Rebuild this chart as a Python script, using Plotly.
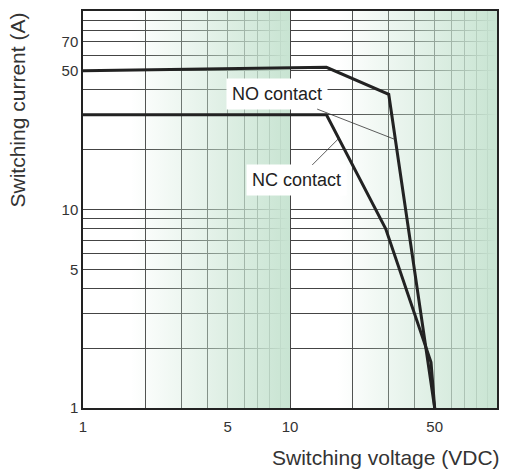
import math
import plotly.graph_objects as go

# ---- data ----
no_voltage = [1, 15, 30, 50]
no_current = [50, 52, 38, 1]
nc_voltage = [1, 15, 29, 48, 50]
nc_current = [30, 30, 8, 1.7, 1]

grid_values = [1, 2, 3, 4, 5, 6, 7, 8, 9, 10, 20, 30, 40, 50, 60, 70, 80, 90, 100]
x_labels = {1: "1", 5: "5", 10: "10", 50: "50"}
y_labels = {1: "1", 5: "5", 10: "10", 50: "50", 70: "70"}

band_ranges = [(1.7, 10), (17, 100)]

# label anchor points on the curves (voltage, current)
no_label_point = (32.3, 22.5)
nc_label_point = (17.2, 22.8)

FONT = "Liberation Sans, Arial, sans-serif"
GREEN = "rgb(200,228,210)"

fig = go.Figure()

# shaded gradient bands
for x0, x1 in band_ranges:
    fig.add_trace(go.Scatter(
        x=[x0, x1, x1, x0, x0], y=[1, 1, 100, 100, 1],
        mode="lines", line=dict(width=0), fill="toself",
        fillgradient=dict(type="horizontal",
                          colorscale=[[0, "rgba(200,228,210,0)"], [1, GREEN]]),
        hoverinfo="skip", showlegend=False))

for xs, ys in [(no_voltage, no_current), (nc_voltage, nc_current)]:
    fig.add_trace(go.Scatter(x=xs, y=ys, mode="lines",
                             line=dict(color="#222", width=3),
                             showlegend=False, hoverinfo="skip"))

axis_common = dict(type="log", range=[0, 2], showgrid=True, gridcolor="#444",
                   gridwidth=1, showline=True, linecolor="#222", linewidth=1.5,
                   mirror=True, ticks="", zeroline=False,
                   tickfont=dict(family=FONT, size=15, color="#333"),
                   layer="above traces")

fig.update_xaxes(**axis_common, tickvals=grid_values, ticklabelstandoff=4,
                 ticktext=[x_labels.get(v, "") for v in grid_values])
fig.update_yaxes(**axis_common, tickvals=grid_values,
                 ticktext=[y_labels.get(v, "") for v in grid_values])

ann_font = dict(family=FONT, size=18, color="#222")
fig.add_annotation(x=math.log10(no_label_point[0]), y=math.log10(no_label_point[1]),
                   xref="x", yref="y", text="NO contact",
                   showarrow=True, arrowhead=0, arrowwidth=0.8, arrowcolor="#333",
                   ax=-118, ay=-46, bgcolor="white", borderpad=5, font=ann_font)
fig.add_annotation(x=math.log10(nc_label_point[0]), y=math.log10(nc_label_point[1]),
                   xref="x", yref="y", text="NC contact",
                   showarrow=True, arrowhead=0, arrowwidth=0.8, arrowcolor="#333",
                   ax=-42, ay=42, bgcolor="white", borderpad=5, font=ann_font)

title_font = dict(family=FONT, size=21, color="#333")
fig.add_annotation(x=1.0, y=0, xref="paper", yref="paper", xanchor="right",
                   yanchor="middle", yshift=-49, xshift=5,
                   text="Switching voltage (VDC)", showarrow=False, font=title_font)
fig.add_annotation(x=0, y=1, xref="paper", yref="paper", xanchor="center",
                   yanchor="top", xshift=-66, yshift=0, textangle=-90,
                   text="Switching current (A)", showarrow=False, font=title_font)

fig.update_layout(width=505, height=472, plot_bgcolor="white", paper_bgcolor="white",
                  margin=dict(l=83, r=6, t=11, b=64), showlegend=False)

fig.write_html("out.html", config={"displayModeBar": False},
               post_script="document.body.style.margin='0';")
